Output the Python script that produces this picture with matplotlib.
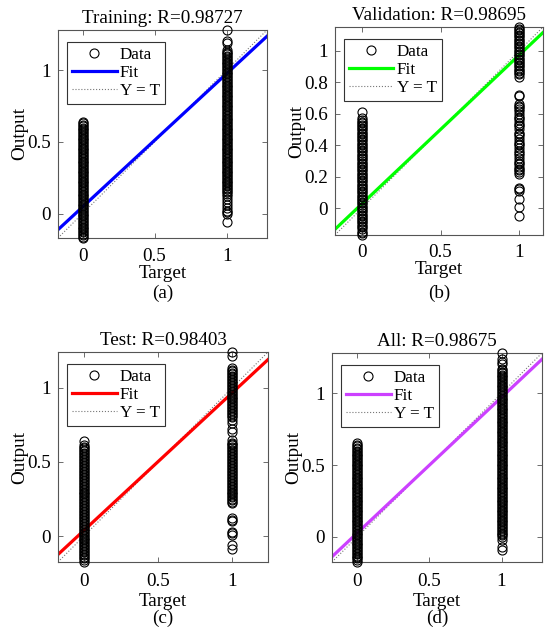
import matplotlib
matplotlib.use("Agg")
import matplotlib.pyplot as plt
from matplotlib.ticker import FuncFormatter

plt.rcParams['font.family'] = ['Liberation Serif', 'DejaVu Serif']

# Datos
titles = ["Training: R=0.98727", "Validation: R=0.98695", "Test: R=0.98403", "All: R=0.98675"]
panel_tags = ["(a)", "(b)", "(c)", "(d)"]
fit_colors = ["#0000ff", "#00ff00", "#ff0000", "#cc40ff"]
fit_slope = [0.930, 0.946, 0.928, 0.945]
fit_icpt = [0.046, 0.027, 0.038, 0.027]

a_t0 = [-0.17, -0.16, -0.15, -0.14, -0.13, -0.12, -0.11, -0.1, -0.09, -0.08, -0.07, -0.06, -0.05,
        -0.04, -0.03, -0.02, -0.01, 0.0, 0.01, 0.02, 0.03, 0.04, 0.05, 0.06, 0.07, 0.08, 0.09, 0.1,
        0.11, 0.12, 0.13, 0.14, 0.15, 0.16, 0.17, 0.18, 0.19, 0.2, 0.21, 0.22, 0.23, 0.24, 0.25,
        0.26, 0.27, 0.28, 0.29, 0.3, 0.31, 0.32, 0.33, 0.34, 0.35, 0.36, 0.37, 0.38, 0.39, 0.4,
        0.41, 0.42, 0.43, 0.44, 0.45, 0.46, 0.47, 0.48, 0.49, 0.5, 0.51, 0.52, 0.53, 0.54, 0.55,
        0.56, 0.57, 0.58, 0.59, 0.6, 0.61, 0.62, 0.63, 0.64]
a_t1 = [1.28, 1.2, 1.19, 1.14, 1.13, 1.12, 1.11, 1.1, 1.09, 1.08, 1.07, 1.06, 1.05, 1.04, 1.03,
        1.02, 1.01, 1.0, 0.99, 0.98, 0.97, 0.96, 0.95, 0.94, 0.93, 0.92, 0.91, 0.9, 0.89, 0.88,
        0.87, 0.86, 0.85, 0.84, 0.83, 0.82, 0.81, 0.8, 0.79, 0.78, 0.77, 0.76, 0.75, 0.74, 0.73,
        0.72, 0.71, 0.7, 0.69, 0.68, 0.67, 0.66, 0.65, 0.64, 0.63, 0.62, 0.61, 0.6, 0.59, 0.58,
        0.57, 0.56, 0.55, 0.54, 0.53, 0.52, 0.51, 0.5, 0.49, 0.48, 0.47, 0.46, 0.45, 0.44, 0.43,
        0.42, 0.41, 0.4, 0.39, 0.38, 0.37, 0.36, 0.35, 0.34, 0.33, 0.32, 0.31, 0.3, 0.29, 0.28,
        0.27, 0.26, 0.25, 0.24, 0.23, 0.22, 0.21, 0.2, 0.19, 0.18, 0.17, 0.16, 0.15, 0.14, 0.12,
        0.1, 0.08, 0.06, 0.04, 0.02, 0.01, 0.0, -0.06]

b_t0 = [-0.17, -0.16, -0.15, -0.13, -0.12, -0.11, -0.1, -0.09, -0.08, -0.07, -0.06, -0.05, -0.04,
        -0.03, -0.02, -0.01, 0.0, 0.01, 0.02, 0.03, 0.04, 0.05, 0.06, 0.07, 0.08, 0.09, 0.1, 0.11,
        0.12, 0.13, 0.14, 0.15, 0.16, 0.17, 0.18, 0.19, 0.2, 0.21, 0.22, 0.23, 0.24, 0.25, 0.26,
        0.27, 0.28, 0.29, 0.3, 0.31, 0.32, 0.33, 0.34, 0.35, 0.36, 0.37, 0.38, 0.39, 0.4, 0.41,
        0.42, 0.43, 0.44, 0.45, 0.46, 0.47, 0.48, 0.49, 0.5, 0.51, 0.52, 0.53, 0.54, 0.55, 0.56,
        0.57, 0.61]
b_t1 = [1.15, 1.14, 1.13, 1.12, 1.11, 1.1, 1.09, 1.08, 1.07, 1.06, 1.05, 1.04, 1.03, 1.02, 1.01,
        1.0, 0.99, 0.98, 0.97, 0.96, 0.95, 0.94, 0.93, 0.92, 0.91, 0.9, 0.89, 0.88, 0.87, 0.86,
        0.85, 0.83, 0.72, 0.71, 0.66, 0.65, 0.64, 0.63, 0.62, 0.6, 0.58, 0.57, 0.56, 0.54, 0.53,
        0.52, 0.5, 0.48, 0.47, 0.46, 0.44, 0.42, 0.41, 0.4, 0.38, 0.36, 0.35, 0.34, 0.32, 0.3,
        0.29, 0.28, 0.26, 0.25, 0.24, 0.23, 0.22, 0.13, 0.12, 0.11, 0.06, 0.01, -0.05]

c_t0 = [-0.175, -0.16, -0.15, -0.14, -0.13, -0.12, -0.11, -0.1, -0.09, -0.08, -0.07, -0.06, -0.05,
        -0.04, -0.03, -0.02, -0.01, 0.0, 0.01, 0.02, 0.03, 0.04, 0.05, 0.06, 0.07, 0.08, 0.09, 0.1,
        0.11, 0.12, 0.13, 0.14, 0.15, 0.16, 0.17, 0.18, 0.19, 0.2, 0.21, 0.22, 0.23, 0.24, 0.25,
        0.26, 0.27, 0.28, 0.29, 0.3, 0.31, 0.32, 0.33, 0.34, 0.35, 0.36, 0.37, 0.38, 0.39, 0.4,
        0.41, 0.42, 0.43, 0.44, 0.45, 0.46, 0.47, 0.48, 0.49, 0.5, 0.51, 0.52, 0.53, 0.54, 0.55,
        0.56, 0.57, 0.58, 0.59, 0.6, 0.61, 0.64]
c_t1 = [1.24, 1.21, 1.13, 1.12, 1.11, 1.1, 1.09, 1.08, 1.07, 1.06, 1.05, 1.04, 1.03, 1.02, 1.01,
        1.0, 0.99, 0.98, 0.97, 0.96, 0.95, 0.94, 0.93, 0.92, 0.91, 0.9, 0.89, 0.88, 0.87, 0.86,
        0.85, 0.84, 0.83, 0.82, 0.81, 0.8, 0.78, 0.76, 0.72, 0.7, 0.65, 0.63, 0.62, 0.61, 0.6,
        0.59, 0.58, 0.57, 0.56, 0.55, 0.54, 0.53, 0.52, 0.51, 0.5, 0.49, 0.48, 0.47, 0.46, 0.45,
        0.44, 0.43, 0.42, 0.41, 0.4, 0.39, 0.38, 0.37, 0.36, 0.35, 0.34, 0.33, 0.32, 0.31, 0.3,
        0.29, 0.28, 0.27, 0.26, 0.25, 0.24, 0.23, 0.22, 0.12, 0.11, 0.1, 0.03, 0.02, 0.01, -0.06,
        -0.09]

d_t0 = [-0.175, -0.16, -0.15, -0.14, -0.13, -0.12, -0.11, -0.1, -0.09, -0.08, -0.07, -0.06, -0.05,
        -0.04, -0.03, -0.02, -0.01, 0.0, 0.01, 0.02, 0.03, 0.04, 0.05, 0.06, 0.07, 0.08, 0.09, 0.1,
        0.11, 0.12, 0.13, 0.14, 0.15, 0.16, 0.17, 0.18, 0.19, 0.2, 0.21, 0.22, 0.23, 0.24, 0.25,
        0.26, 0.27, 0.28, 0.29, 0.3, 0.31, 0.32, 0.33, 0.34, 0.35, 0.36, 0.37, 0.38, 0.39, 0.4,
        0.41, 0.42, 0.43, 0.44, 0.45, 0.46, 0.47, 0.48, 0.49, 0.5, 0.51, 0.52, 0.53, 0.54, 0.55,
        0.56, 0.57, 0.58, 0.59, 0.6, 0.61, 0.62, 0.63, 0.64, 0.65]
d_t1 = [1.28, 1.24, 1.22, 1.2, 1.17, 1.16, 1.15, 1.14, 1.13, 1.12, 1.11, 1.1, 1.09, 1.08, 1.07,
        1.06, 1.05, 1.04, 1.03, 1.02, 1.01, 1.0, 0.99, 0.98, 0.97, 0.96, 0.95, 0.94, 0.93, 0.92,
        0.91, 0.9, 0.89, 0.88, 0.87, 0.86, 0.85, 0.84, 0.83, 0.82, 0.81, 0.8, 0.79, 0.78, 0.77,
        0.76, 0.75, 0.74, 0.73, 0.72, 0.71, 0.7, 0.69, 0.68, 0.67, 0.66, 0.65, 0.64, 0.63, 0.62,
        0.61, 0.6, 0.59, 0.58, 0.57, 0.56, 0.55, 0.54, 0.53, 0.52, 0.51, 0.5, 0.49, 0.48, 0.47,
        0.46, 0.45, 0.44, 0.43, 0.42, 0.41, 0.4, 0.39, 0.38, 0.37, 0.36, 0.35, 0.34, 0.33, 0.32,
        0.31, 0.3, 0.29, 0.28, 0.27, 0.26, 0.25, 0.24, 0.23, 0.22, 0.21, 0.2, 0.19, 0.18, 0.17,
        0.16, 0.15, 0.14, 0.13, 0.12, 0.11, 0.1, 0.09, 0.08, 0.07, 0.06, 0.05, 0.04, 0.03, 0.02,
        0.01, 0.0, -0.02, -0.07, -0.09]

outputs_t0 = [a_t0, b_t0, c_t0, d_t0]
outputs_t1 = [a_t1, b_t1, c_t1, d_t1]
y_ticks = [[0, 0.5, 1], [0, 0.2, 0.4, 0.6, 0.8, 1], [0, 0.5, 1], [0, 0.5, 1]]

fig = plt.figure(figsize=(5.5, 6.41), dpi=100)
W, H = 550, 641
# cajas de ejes en pixeles (izq, arriba, der, abajo)
boxes = [(58, 30, 267, 238), (335, 27, 543, 235), (58, 352, 268, 562), (332, 353, 542, 562)]
tag_y = [293, 293, 618, 618]
xpad = [7, 6.5, 8, 8]
xlpad = [0, 0, 2, 2]
axis_gray = "#555555"
fs = 13.8

for i in range(4):
    l, t, r, b = boxes[i]
    ax = fig.add_axes([l / W, 1 - b / H, (r - l) / W, (b - t) / H])
    y0 = outputs_t0[i]
    y1 = outputs_t1[i]
    lo = min(min(y0), min(y1), 0)
    hi = max(max(y0), max(y1), 1)

    ax.plot([0] * len(y0) + [1] * len(y1), y0 + y1, 'o', mfc='none', mec='black',
            ms=6.5, mew=0.8, label='Data', clip_on=False, zorder=3)
    ax.plot([lo, hi], [fit_slope[i] * lo + fit_icpt[i], fit_slope[i] * hi + fit_icpt[i]],
            '-', color=fit_colors[i], lw=2.3, label='Fit', zorder=2)
    ax.plot([lo, hi], [lo, hi], ':', color='#777777', lw=0.8, label='Y = T', zorder=1)

    ax.set_xlim(lo, hi)
    ax.set_ylim(lo, hi)
    ax.set_xticks([0, 0.5, 1])
    ax.set_yticks(y_ticks[i])
    ax.xaxis.set_major_formatter(FuncFormatter(lambda v, p: '%g' % v))
    ax.yaxis.set_major_formatter(FuncFormatter(lambda v, p: '%g' % v))
    ax.tick_params(direction='in', top=True, right=True, length=3.5, width=0.6,
                   color=axis_gray, labelsize=fs)
    ax.tick_params(axis='x', pad=xpad[i])
    ax.tick_params(axis='y', pad=5)
    for s in ax.spines.values():
        s.set_color(axis_gray)
        s.set_linewidth(0.8)

    ax.set_title(titles[i], fontsize=fs, pad=5)
    ax.set_xlabel('Target', fontsize=fs, labelpad=xlpad[i])
    ax.set_ylabel('Output', fontsize=fs, labelpad=-1)

    leg = ax.legend(loc='upper left', bbox_to_anchor=(0.043, 0.942), borderaxespad=0,
                    fontsize=12.3, handlelength=2.6, handletextpad=0.2, labelspacing=0.1,
                    borderpad=0.3, fancybox=False, framealpha=1, edgecolor='#333333')
    leg.get_frame().set_linewidth(0.8)

    fig.text((l + r) / 2 / W, 1 - tag_y[i] / H, panel_tags[i], ha='center', va='center',
             fontsize=fs)

plt.savefig('out.png', dpi=100)
